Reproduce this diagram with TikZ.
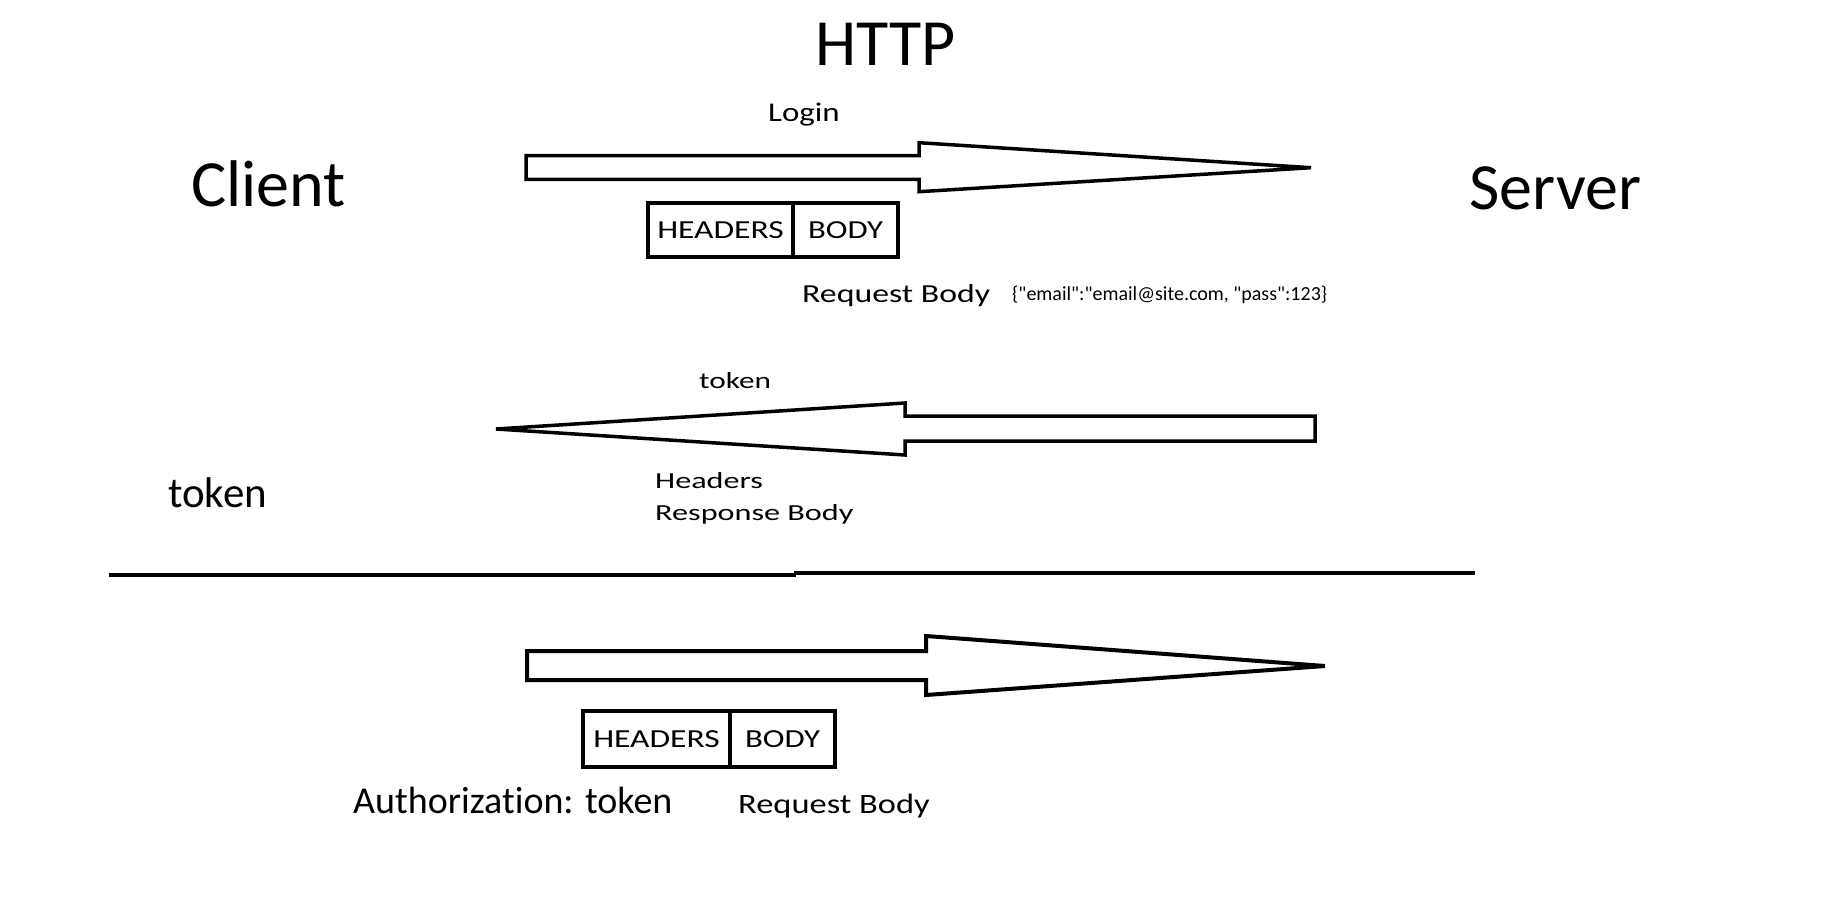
\documentclass[tikz,border=0pt]{standalone}
\usepackage{fontspec}
\usepackage{graphicx}
\setmainfont{Carlito}[Ligatures={TeX,NoCommon}]
\newfontfamily\jsonfont{Carlito}[Ligatures={TeXOff,NoCommon}]
\newcommand\widetxt[2]{\scalebox{#1}[1]{#2}}
\newcommand\fsz[1]{\fontsize{#1}{#1}\selectfont}
\begin{document}
\begin{tikzpicture}[x=1pt,y=-1pt,
  lbl/.style={inner sep=0pt, anchor=base west},
  arrowshape/.style={draw=black, line width=3.5pt, fill=white, line join=miter},
  cell/.style={draw=black, line width=3.5pt, inner sep=0pt, fill=white}]
\useasboundingbox (0,0) rectangle (1822,901);

% titles
\node[lbl] (http) at (815,66) {\fsz{66}HTTP};
\node[lbl] (client) at (191,207) {\fsz{66}Client};
\node[lbl] (server) at (1469,210) {\fsz{66}Server};

% login request arrow
\draw[arrowshape] (526,155.7) -- (919,155.7) -- (919,142.7) -- (1311,167.7) -- (919,191.7) -- (919,179.3) -- (526,179.3) -- cycle;
\node[lbl] (login) at (768,122) {\fsz{27}\widetxt{1.22}{Login}};
\node[cell, minimum width=145pt, minimum height=54pt] (hdr1) at (720.5,230) {\fsz{26}\widetxt{1.29}{HEADERS}};
\node[cell, minimum width=105pt, minimum height=54pt] (body1) at (845.5,230) {\fsz{26}\widetxt{1.26}{BODY}};
\node[lbl] (reqbody1) at (802,302) {\fsz{26}\widetxt{1.3}{Request Body}};
\node[lbl] (json) at (1012,300) {\jsonfont\fsz{20}\{"email":"email@site.com, "pass":123\}};

% token response arrow
\draw[arrowshape] (1315,416) -- (905,416) -- (905,403) -- (496,429) -- (905,455) -- (905,441) -- (1315,441) -- cycle;
\node[lbl] (tokenlbl) at (699,388) {\fsz{23}\widetxt{1.36}{token}};
\node[lbl] (headers) at (655,488) {\fsz{23}\widetxt{1.4}{Headers}};
\node[lbl] (respbody) at (655,520) {\fsz{23}\widetxt{1.4}{Response Body}};
\node[lbl] (token) at (168,507) {\fsz{43}token};

% divider
\draw[line width=4.5pt] (109,575) -- (796,575);
\draw[line width=4.5pt] (794,573) -- (1475,573);

% authorized request arrow
\draw[arrowshape, line width=4pt] (527,651) -- (926,651) -- (926,636) -- (1325,666) -- (926,695) -- (926,680) -- (527,680) -- cycle;
\node[cell, minimum width=147pt, minimum height=56pt] (hdr2) at (656.5,739) {\fsz{26}\widetxt{1.29}{HEADERS}};
\node[cell, minimum width=105pt, minimum height=56pt] (body2) at (782.5,739) {\fsz{26}\widetxt{1.26}{BODY}};
\node[lbl] (auth) at (353,813) {\fsz{38}Authorization: token};
\node[lbl] (reqbody2) at (738,813) {\fsz{28}\widetxt{1.23}{Request Body}};
\end{tikzpicture}
\end{document}
